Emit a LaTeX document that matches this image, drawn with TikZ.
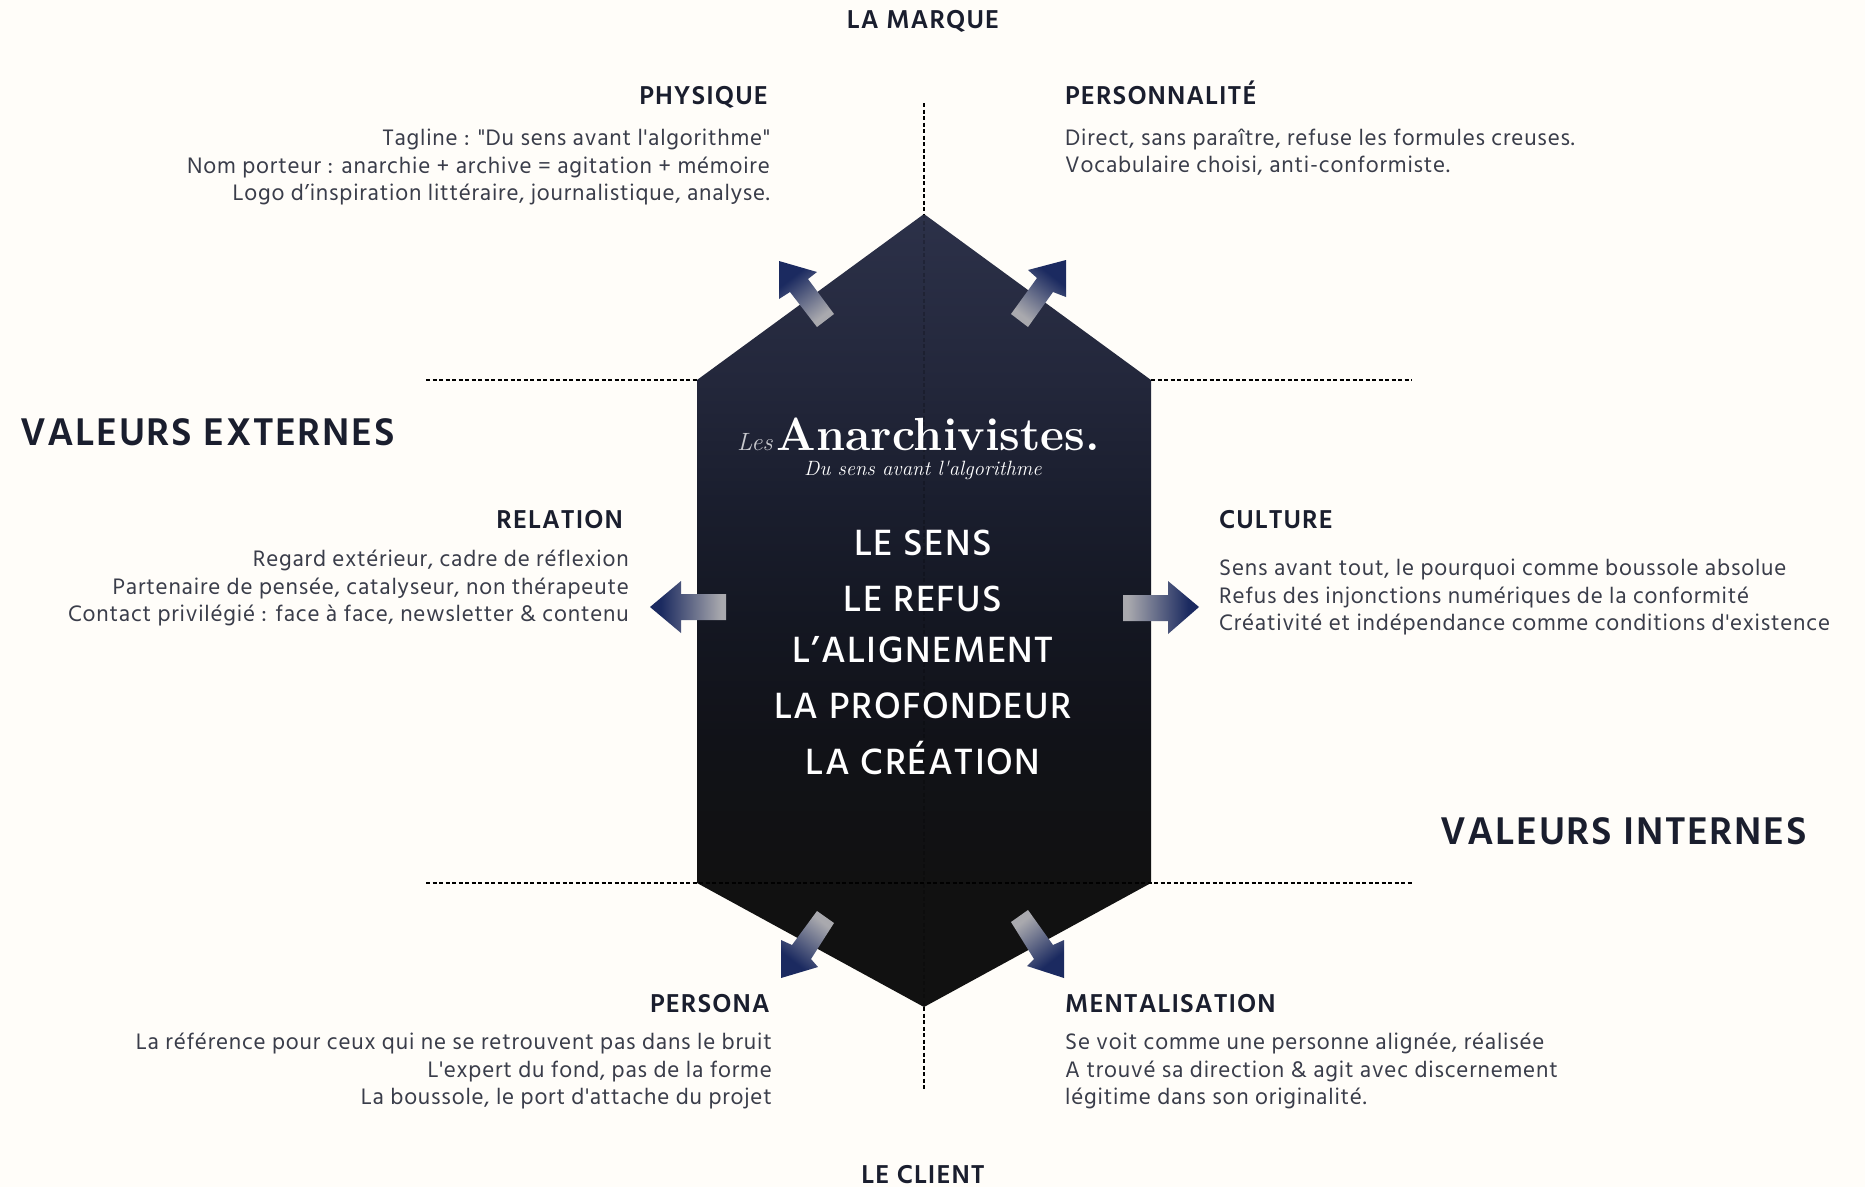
\documentclass[tikz,border=0pt]{standalone}
\usepackage{fontspec}
\setmainfont{Hind Madurai}
\newfontfamily\bodyfont[LetterSpace=3.5]{Hind Madurai}
\newfontfamily\headfont[LetterSpace=4,UprightFont=* Medium,BoldFont=* SemiBold]{Hind Madurai}
\newfontfamily\logofont{Latin Modern Roman}
\definecolor{pagebg}{HTML}{FFFDF9}
\definecolor{headink}{HTML}{1A1E2E}
\definecolor{bodyink}{HTML}{3A3D4A}
\definecolor{hexa}{HTML}{2C3149}
\definecolor{hexb}{HTML}{23273B}
\definecolor{hexc}{HTML}{1A1E2E}
\definecolor{hexd}{HTML}{141722}
\definecolor{hexe}{HTML}{111218}
\definecolor{hexf}{HTML}{111111}
\definecolor{arrowgrey}{HTML}{A9A9AE}
\definecolor{arrownavy}{HTML}{1B2A60}
\pgfdeclareverticalshading{arrowfade}{100bp}{color(0bp)=(arrowgrey); color(28bp)=(arrowgrey); color(68bp)=(arrownavy); color(100bp)=(arrownavy)}
\pgfdeclareverticalshading{hexfade}{100bp}{color(0bp)=(hexf); color(33bp)=(hexf); color(41.8bp)=(hexe); color(49.4bp)=(hexd); color(56.9bp)=(hexc); color(64.5bp)=(hexb); color(75bp)=(hexa); color(100bp)=(hexa)}
\tikzset{
  bodytext/.style={inner sep=0pt,text=bodyink,font=\bodyfont\fontsize{23}{27.5}\selectfont,execute at begin node=\strut,execute at end node=\strut},
  bodyleft/.style={bodytext,anchor=west,align=left},
  bodyright/.style={bodytext,anchor=east,align=right},
  headtext/.style={inner sep=0pt,text=headink,font=\headfont\fontsize{26.5}{30}\selectfont\bfseries},
  bigtext/.style={inner sep=0pt,text=headink,font=\headfont\fontsize{39.6}{44}\selectfont\bfseries},
  coretext/.style={inner sep=0pt,text=white,anchor=base,font=\headfont\fontsize{37.5}{44}\selectfont},
  guide/.style={draw=black,line width=2.2pt,dash pattern=on 4pt off 2.5pt},
  faintguide/.style={guide,draw opacity=.2},
  fadearrow/.style={shading=arrowfade},
}
\begin{document}
\begin{tikzpicture}[x=1pt,y=-1pt]
\useasboundingbox[fill=pagebg] (0,0) rectangle (1865,1187);
% hexagon corners
\coordinate (apex) at (924,214);
\coordinate (ul) at (697,380);
\coordinate (ur) at (1151,380);
\coordinate (lr) at (1151,883);
\coordinate (ll) at (697,883);
\coordinate (foot) at (924,1007);
\coordinate (topend) at (924,103);
\coordinate (botend) at (924,1089);
\coordinate (ulend) at (426,380);
\coordinate (urend) at (1412,380);
\coordinate (llend) at (426,883);
\coordinate (lrend) at (1412,883);
\shade[shading=hexfade] (apex) -- (ur) -- (lr) -- (foot) -- (ll) -- (ul) -- cycle;
\draw[guide] (topend) -- (apex);
\draw[faintguide] (apex) -- (foot);
\draw[guide] (foot) -- (botend);
\draw[guide] (ulend) -- (ul);
\draw[guide] (ur) -- (urend);
\draw[guide] (llend) -- (lrend);
% arrows
\shade[fadearrow,shading angle=38] (779,261) -- (817,272) -- (808,279) -- (834,314) -- (817,327) -- (790,292) -- (779,299) -- cycle;
\shade[fadearrow,shading angle=-38] (1066,260) -- (1028,270) -- (1037,278) -- (1011,314) -- (1028,327) -- (1053,292) -- (1066,297) -- cycle;
\shade[fadearrow,shading angle=142] (781,978) -- (818,967) -- (811,959) -- (834,923) -- (817,911) -- (792,945) -- (781,940) -- cycle;
\shade[fadearrow,shading angle=-142] (1064,978) -- (1027,966) -- (1034,959) -- (1011,922) -- (1028,910) -- (1053,945) -- (1064,940) -- cycle;
\shade[fadearrow,shading angle=90] (650,607) -- (681,581) -- (681,594) -- (726,594) -- (726,620) -- (681,620) -- (681,633) -- cycle;
\shade[fadearrow,shading angle=-90] (1199,607) -- (1168,581) -- (1168,595) -- (1123,595) -- (1123,621) -- (1168,621) -- (1168,634) -- cycle;
% axis titles
\node[headtext,anchor=base] (marque) at (923,28) {LA MARQUE};
\node[headtext,anchor=base] (client) at (923,1183) {LE CLIENT};
\node[bigtext,anchor=base west] (externes) at (20,445) {VALEURS EXTERNES};
\node[bigtext,anchor=base west] (internes) at (1440,844) {VALEURS INTERNES};
% blocks
\node[headtext,anchor=base east] (physique) at (768,104) {PHYSIQUE};
\node[bodyright] (physiquetxt) at (770,169) {Tagline : "Du sens avant l'algorithme"\\Nom porteur : anarchie + archive = agitation + mémoire\\Logo d’inspiration littéraire, journalistique, analyse.};
\node[headtext,anchor=base west] (perso) at (1065,104) {PERSONNALITÉ};
\node[bodyleft] (persotxt) at (1065,155) {Direct, sans paraître, refuse les formules creuses.\\Vocabulaire choisi, anti-conformiste.};
\node[headtext,anchor=base east] (relation) at (623,528) {RELATION};
\node[bodyright] (relationtxt) at (629,590) {Regard extérieur, cadre de réflexion\\Partenaire de pensée, catalyseur, non thérapeute\\Contact privilégié : face à face, newsletter \& contenu};
\node[headtext,anchor=base west] (culture) at (1219,528) {CULTURE};
\node[bodyleft] (culturetxt) at (1219,599) {Sens avant tout, le pourquoi comme boussole absolue\\Refus des injonctions numériques de la conformité\\Créativité et indépendance comme conditions d'existence};
\node[headtext,anchor=base east] (persona) at (770,1012) {PERSONA};
\node[bodyright] (personatxt) at (772,1073) {La référence pour ceux qui ne se retrouvent pas dans le bruit\\L'expert du fond, pas de la forme\\La boussole, le port d'attache du projet};
\node[headtext,anchor=base west] (mental) at (1065,1012) {MENTALISATION};
\node[bodyleft] (mentaltxt) at (1065,1073) {Se voit comme une personne alignée, réalisée\\A trouvé sa direction \& agit avec discernement\\légitime dans son originalité.};
% logo
\node[inner sep=0pt,anchor=base east,text=white,font=\logofont\fontsize{46.5}{50}\selectfont\bfseries] (logo) at (1100,450) {Anarchivistes.};
\node[inner sep=0pt,anchor=base west,text=white!75!hexb,font=\logofont\fontsize{25}{30}\selectfont\itshape] (logoles) at (737,450) {Les};
\node[inner sep=0pt,anchor=base,text=white,font=\logofont\fontsize{20.7}{24}\selectfont\itshape] (logotag) at (923,475) {Du sens avant l'algorithme};
% core values
\node[coretext] (v1) at (923,555) {LE SENS};
\node[coretext] (v2) at (923,611) {LE REFUS};
\node[coretext] (v3) at (923,662) {L’ALIGNEMENT};
\node[coretext] (v4) at (923,718) {LA PROFONDEUR};
\node[coretext] (v5) at (923,774) {LA CRÉATION};
\end{tikzpicture}
\end{document}
